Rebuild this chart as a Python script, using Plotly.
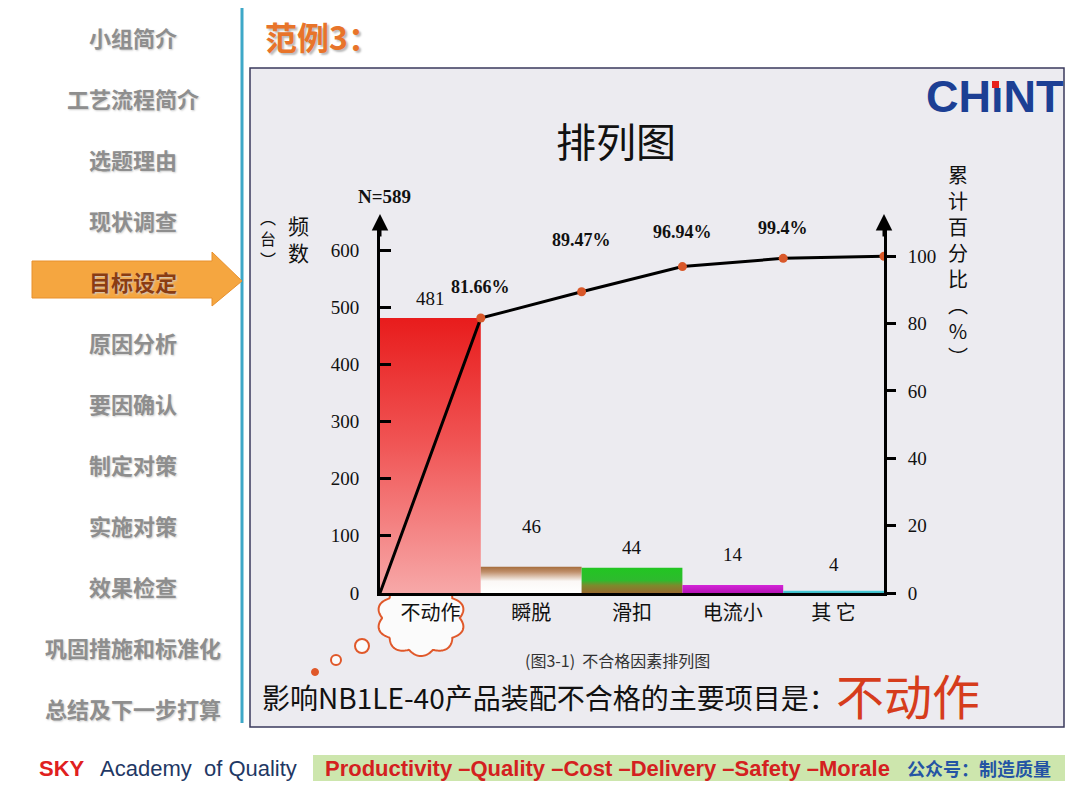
import numpy as np
import plotly.graph_objects as go

# pareto data
categories = ["不动作", "瞬脱", "滑扣", "电流小", "其 它"]
counts = [481, 46, 44, 14, 4]
cum_pct = [81.66, 89.47, 96.94, 99.4, 100]
pct_labels = ["81.66%", "89.47%", "96.94%", "99.4%"]
total_n = 589

left_ticks = [0, 100, 200, 300, 400, 500, 600]
right_ticks = [0, 20, 40, 60, 80, 100]

menu_items = ["小组简介", "工艺流程简介", "选题理由", "现状调查", "目标设定", "原因分析",
              "要因确认", "制定对策", "实施对策", "效果检查", "巩固措施和标准化", "总结及下一步打算"]
current_item = "目标设定"

# styling
bar_gradients = [
    [[0, "#f7a8a8"], [0.55, "#f05454"], [1, "#e81c1c"]],
    [[0, "#ffffff"], [0.45, "#fbf8f6"], [0.8, "#c0906c"], [1, "#a56c3c"]],
    [[0, "#96682e"], [0.3, "#7c8a2c"], [0.5, "#2eba2e"], [1, "#22c622"]],
    [[0, "#b412b4"], [1, "#d424d8"]],
    [[0, "#3cb8c4"], [1, "#4cd0dc"]],
]
bar_label_shift = [20, 40, 20, 31, 26]
pct_label_shift = [31, 52, 35, 30]

CJK = "Noto Sans CJK SC"
SERIF = "Liberation Serif"
W, H = 1080, 786
FIG_H = 797  # the page gets squeezed a little in the snapshot


def px(x):
    return x / W


def py(y):
    return 1 - y / H


y1_max = 642
y2_max = y1_max / total_n * 100  # keep 100% level with N

fig = go.Figure()


def txt(x, y, text, font, xanchor="center", yanchor="middle"):
    # text placed in slide pixels
    fig.add_annotation(x=px(x), y=py(y), xref="paper", yref="paper", text=text,
                       showarrow=False, xanchor=xanchor, yanchor=yanchor, font=font)


# bars as filled polygons so they can carry a vertical gradient
for i, v in enumerate(counts):
    fig.add_trace(go.Scatter(
        x=[i, i, i + 1, i + 1, i], y=[0, v, v, 0, 0],
        mode="lines", fill="toself", line=dict(width=0),
        fillgradient=dict(type="vertical", colorscale=bar_gradients[i]),
        hoverinfo="skip", showlegend=False))

# cumulative line
line_x = list(range(len(categories) + 1))
fig.add_trace(go.Scatter(
    x=line_x, y=[0] + cum_pct, yaxis="y2", mode="lines",
    line=dict(color="black", width=3), hoverinfo="skip", showlegend=False))
fig.add_trace(go.Scatter(
    x=line_x[1:], y=cum_pct, yaxis="y2", mode="markers",
    marker=dict(color="#d9582a", size=9), hoverinfo="skip", showlegend=False))

num_font = dict(family=SERIF, size=19, color="#111111")

for i, v in enumerate(counts):
    fig.add_annotation(x=i + 0.5, y=v, xref="x", yref="y", text=str(v),
                       showarrow=False, yshift=bar_label_shift[i], font=num_font)

for i, lab in enumerate(pct_labels):
    fig.add_annotation(x=i + 1, y=cum_pct[i], xref="x", yref="y2", text=lab,
                       showarrow=False, yshift=pct_label_shift[i],
                       font=dict(family=SERIF, size=18, color="#111111", weight="bold"))

# arrow heads on the two vertical axes
for ax_x in (0, len(categories)):
    fig.add_annotation(x=ax_x, y=py(214), xref="x", yref="paper", text="",
                       showarrow=True, ax=0, ay=24, arrowhead=2, arrowsize=1.1,
                       arrowwidth=3, arrowcolor="black")

txt(385, 196, f"N={total_n}", dict(family=SERIF, size=19, color="#111111", weight="bold"))

# axis titles written vertically
txt(298, 238, "频<br>数", dict(family=CJK, size=21, color="#111111"))
txt(268, 238, "︵<br>台<br>︶", dict(family=CJK, size=16, color="#111111"))
txt(958, 265, "累<br>计<br>百<br>分<br>比<br>︵<br>%<br>︶", dict(family=CJK, size=20, color="#111111"))

# titles and texts on the slide
txt(263, 36, "范例3：", dict(family=CJK, size=32, color="#e8742a", weight="bold",
                             shadow="2px 2px 2px #bbbbbb"), xanchor="left")
txt(616, 140, "排列图", dict(family=CJK, size=40, color="#111111"))
txt(994, 97, "CHıNT", dict(family="Liberation Sans", size=45, color="#1c3f94", weight="bold"))
txt(617, 660, "(图3-1)  不合格因素排列图", dict(family=CJK, size=16, color="#333333"))
txt(260, 697, "影响NB1LE-40产品装配不合格的主要项目是：",
    dict(family=CJK, size=28, color="#111111"), xanchor="left")
txt(908, 694, categories[0], dict(family=CJK, size=48, color="#d63c1c"))

# left navigation menu
for i, item in enumerate(menu_items):
    on = item == current_item
    txt(133, 37 + 61 * i, item,
        dict(family=CJK, size=22, weight="bold", color="#8a3c12" if on else "#8e8e8e",
             shadow="1px 1px 2px #cccccc"))

# footer
txt(37, 768, "SKY", dict(family="Liberation Sans", size=22, color="#e02020", weight="bold"),
    xanchor="left")
txt(98, 768, "Academy  of Quality", dict(family="Liberation Sans", size=22, color="#1f3864"),
    xanchor="left")
txt(323, 768, "Productivity –Quality –Cost –Delivery –Safety –Morale",
    dict(family="Liberation Sans", size=22, color="#d42020", weight="bold"), xanchor="left")
txt(905, 768, "公众号：制造质量", dict(family=CJK, size=18, color="#2454a4", weight="bold"),
    xanchor="left")


def cloud_path(cx, cy, rx, ry, bumps=10, n=240):
    t = np.linspace(0, 2 * np.pi, n)
    r = 0.88 + 0.12 * np.abs(np.sin(bumps / 2 * t))
    xs = cx + rx * r * np.cos(t)
    ys = cy + ry * r * np.sin(t)
    return "M " + " L ".join(f"{px(a):.5f},{py(b):.5f}" for a, b in zip(xs, ys)) + " Z"


def circle(cx, cy, r, fill, line_w=2):
    fig.add_shape(type="circle", xref="paper", yref="paper",
                  x0=px(cx - r), x1=px(cx + r), y0=py(cy + r), y1=py(cy - r),
                  fillcolor=fill, line=dict(color="#e0582a", width=line_w), layer="below")


shapes = [
    # chart panel
    dict(type="rect", xref="paper", yref="paper", x0=px(250), x1=px(1064),
         y0=py(727), y1=py(68), fillcolor="#ecebf0",
         line=dict(color="#3a3a5c", width=1.5), layer="below"),
    # divider line
    dict(type="line", xref="paper", yref="paper", x0=px(242), x1=px(242),
         y0=py(8), y1=py(723), line=dict(color="#3ea8c8", width=3), layer="below"),
    # current-step arrow
    dict(type="path", xref="paper", yref="paper", layer="below",
         path=(f"M {px(32)},{py(261)} L {px(212)},{py(261)} L {px(212)},{py(252)} "
               f"L {px(242)},{py(281)} L {px(212)},{py(306)} L {px(212)},{py(298)} "
               f"L {px(32)},{py(298)} Z"),
         fillcolor="#f5a640", line=dict(color="#e8902c", width=1)),
    # footer band
    dict(type="rect", xref="paper", yref="paper", x0=px(313), x1=px(1065),
         y0=py(781), y1=py(755), fillcolor="#cde6ad", line=dict(width=0), layer="below"),
    # thinking cloud round the main item
    dict(type="path", xref="paper", yref="paper", layer="below",
         path=cloud_path(421, 618, 44, 38), fillcolor="#fbfbfb",
         line=dict(color="#e0582a", width=2)),
    # red dot of the logo
    dict(type="rect", xref="paper", yref="paper", x0=px(992), x1=px(999),
         y0=py(88), y1=py(81), fillcolor="#e8201c", line=dict(width=0), layer="above"),
]
for s in shapes:
    fig.add_shape(**s)

circle(362, 646, 7, "#fbfbfb")
circle(336, 660, 5, "#fbfbfb")
circle(315, 672, 3.5, "#e0582a", 1)

axis_line = dict(showline=True, linecolor="black", linewidth=3,
                 showgrid=False, zeroline=False)

fig.update_layout(
    width=W, height=FIG_H, autosize=False,
    margin=dict(l=0, r=0, t=0, b=0),
    paper_bgcolor="white", plot_bgcolor="rgba(0,0,0,0)",
    showlegend=False,
    xaxis=dict(domain=[px(380), px(884)], range=[0, len(categories)],
               tickvals=[i + 0.5 for i in range(len(categories))], ticktext=categories,
               tickfont=dict(family=CJK, size=20, color="#111111"), ticks="",
               fixedrange=True, **axis_line),
    yaxis=dict(domain=[py(593), py(226)], range=[0, y1_max], tickvals=left_ticks,
               ticks="inside", ticklen=11, tickwidth=3, tickcolor="black",
               ticklabelstandoff=14, tickfont=num_font, **axis_line),
    yaxis2=dict(domain=[py(593), py(226)], range=[0, y2_max], tickvals=right_ticks,
                overlaying="y", side="right", anchor="x",
                ticks="outside", ticklen=9, tickwidth=3, tickcolor="black",
                ticklabelstandoff=8, tickfont=num_font, **axis_line),
)

# drop the default page margin
page_fix = ("document.documentElement.style.margin='0';document.body.style.margin='0';"
            "document.documentElement.style.overflow='hidden';"
            "document.body.style.overflow='hidden';")
fig.write_html("out.html", config={"displayModeBar": False}, post_script=page_fix)
